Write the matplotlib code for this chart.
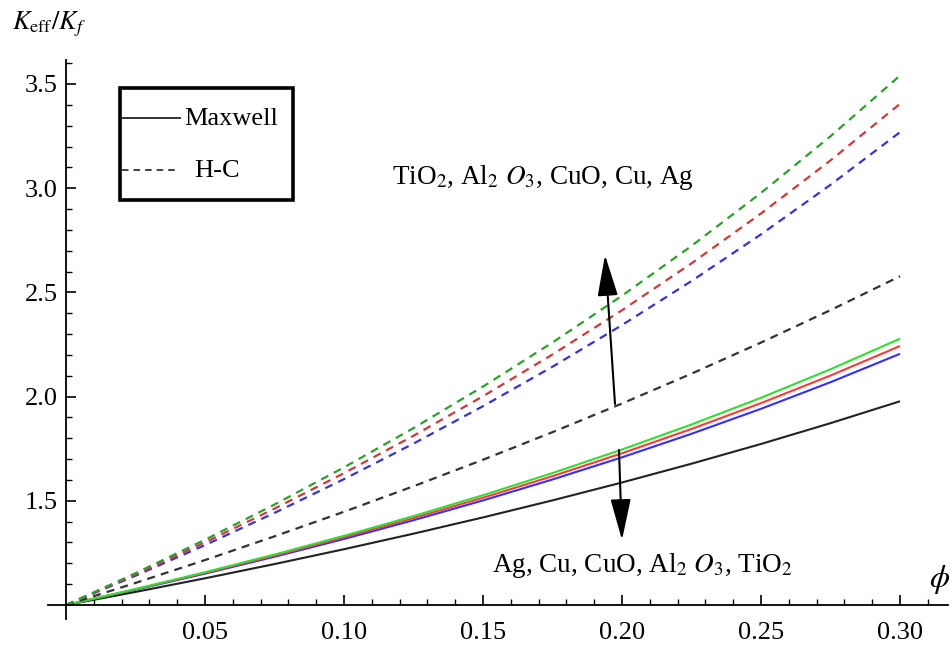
import matplotlib
matplotlib.use("Agg")
import matplotlib.pyplot as plt
from matplotlib.lines import Line2D
from matplotlib.patches import Rectangle
from matplotlib.ticker import FixedLocator

plt.rcParams['font.family'] = ['Liberation Serif', 'DejaVu Serif']
plt.rcParams['mathtext.fontset'] = 'stix'

# volume fraction
phi = [0.0, 0.025, 0.05, 0.075, 0.10, 0.125, 0.15, 0.175, 0.20, 0.225, 0.25, 0.275, 0.30]

# Maxwell model (solid)
maxwell_TiO2 = [1.0, 1.0627, 1.1281, 1.1964, 1.2677, 1.3423, 1.4203, 1.5021, 1.5879, 1.6780, 1.7727, 1.8725, 1.9776]
maxwell_Al2O3 = [1.0, 1.0734, 1.1505, 1.2316, 1.3169, 1.4069, 1.5018, 1.6023, 1.7086, 1.8215, 1.9414, 2.0691, 2.2053]
maxwell_CuO = [1.0, 1.0751, 1.1540, 1.2370, 1.3246, 1.4170, 1.5147, 1.6182, 1.7280, 1.8446, 1.9687, 2.1011, 2.2427]
maxwell_Ag = [1.0, 1.0766, 1.1572, 1.2421, 1.3318, 1.4265, 1.5268, 1.6331, 1.7460, 1.8662, 1.9943, 2.1312, 2.2779]

# Hamilton-Crosser model (dashed)
hc_TiO2 = [1.0, 1.1059, 1.2156, 1.3294, 1.4474, 1.5698, 1.6970, 1.8293, 1.9668, 2.1100, 2.2593, 2.4149, 2.5773]
hc_Al2O3 = [1.0, 1.1404, 1.2875, 1.4419, 1.6040, 1.7745, 1.9540, 2.1433, 2.3432, 2.5546, 2.7786, 3.0162, 3.2688]
hc_CuO = [1.0, 1.1466, 1.3005, 1.4623, 1.6326, 1.8122, 2.0017, 2.2021, 2.4143, 2.6394, 2.8786, 3.1333, 3.4049]
hc_Ag = [1.0, 1.1525, 1.3130, 1.4820, 1.6604, 1.8488, 2.0482, 2.2596, 2.4841, 2.7229, 2.9774, 3.2492, 3.5403]

x_ticks = [0.05, 0.10, 0.15, 0.20, 0.25, 0.30]
x_tick_labels = ['0.05', '0.10', '0.15', '0.20', '0.25', '0.30']
y_ticks = [1.5, 2.0, 2.5, 3.0, 3.5]
y_tick_labels = ['1.5', '2.0', '2.5', '3.0', '3.5']

solid_colors = ['#222222', '#3030ff', '#ff3a3a', '#30dd30']
dashed_colors = ['#333333', '#3535d0', '#cc3a3a', '#2e9e2e']

W, H = 953, 646
fig = plt.figure(figsize=(W / 100, H / 100), dpi=100)

# axes placement (pixels)
left_px, right_px, top_px, bot_px = 48, 948, 60, 619
ax = fig.add_axes([left_px / W, 1 - bot_px / H, (right_px - left_px) / W, (bot_px - top_px) / H])

px_per_x = (900 - 66) / 0.30
px_per_y = (605 - 84) / 2.5
ax.set_xlim(-(66 - left_px) / px_per_x, (right_px - 66) / px_per_x)
ax.set_ylim(1 - (bot_px - 605) / px_per_y, 1 + (605 - top_px) / px_per_y)

for ys, c in zip([maxwell_TiO2, maxwell_Al2O3, maxwell_CuO, maxwell_Ag], solid_colors):
    ax.plot(phi, ys, color=c, lw=1.5, solid_capstyle='butt')
for ys, c in zip([hc_TiO2, hc_Al2O3, hc_CuO, hc_Ag], dashed_colors):
    ax.plot(phi, ys, color=c, lw=1.6, dashes=(3.6, 2.8))

# spines through origin
ax.spines['left'].set_position(('data', 0))
ax.spines['bottom'].set_position(('data', 1))
ax.spines['top'].set_visible(False)
ax.spines['right'].set_visible(False)
ax.spines['left'].set_linewidth(1.3)
ax.spines['bottom'].set_linewidth(1.3)

ax.xaxis.set_major_locator(FixedLocator(x_ticks))
ax.xaxis.set_minor_locator(FixedLocator([i / 100 for i in range(1, 32) if i % 5 != 0]))
ax.yaxis.set_major_locator(FixedLocator(y_ticks))
ax.yaxis.set_minor_locator(FixedLocator([1 + i / 10 for i in range(1, 27) if i % 5 != 0]))
ax.set_xticklabels(x_tick_labels)
ax.set_yticklabels(y_tick_labels)
ax.tick_params(which='major', direction='in', length=7, width=1.2, labelsize=19)
ax.tick_params(which='minor', direction='in', length=4, width=1.0)
ax.tick_params(axis='x', which='major', pad=12)
ax.tick_params(axis='y', which='major', pad=6)
ax.patch.set_visible(False)

# axis labels
fig.text(12 / W, 1 - 24 / H, r'$K_{\rm eff}/K_f$', fontsize=19, va='center', ha='left')
fig.text(929 / W, 1 - 580 / H, r'$\phi$', fontsize=23, va='center', ha='left')

# annotations
ax.text((392 - 66) / px_per_x, 1 + (605 - 178) / px_per_y,
        r'TiO$_2$, Al$_2$ $O_3$, CuO, Cu, Ag', fontsize=19.5, va='center', ha='left')
ax.text((492 - 66) / px_per_x, 1 + (605 - 565) / px_per_y,
        r'Ag, Cu, CuO, Al$_2$ $O_3$, TiO$_2$', fontsize=19.5, va='center', ha='left')


def dc(px, py):
    return ((px - 66) / px_per_x, 1 + (605 - py) / px_per_y)


arrow_style = dict(arrowstyle='-|>,head_length=1.7,head_width=0.42', mutation_scale=15,
                   lw=1.5, color='black', shrinkA=0, shrinkB=0)
ax.annotate('', xy=dc(605, 255), xytext=dc(615, 404), arrowprops=arrow_style)
ax.annotate('', xy=dc(622, 540), xytext=dc(619, 450), arrowprops=arrow_style)


# legend box (manual)
def fx(px):
    return px / W


def fy(py):
    return 1 - py / H


fig.add_artist(Rectangle((fx(120), fy(200)), fx(293) - fx(120), fy(88) - fy(200),
                         transform=fig.transFigure, fill=False, lw=2.6, edgecolor='black'))
fig.add_artist(Line2D([fx(121), fx(180)], [fy(118), fy(118)], transform=fig.transFigure,
                      color='#222222', lw=1.3))
fig.add_artist(Line2D([fx(122), fx(175)], [fy(170), fy(170)], transform=fig.transFigure,
                      color='#333333', lw=1.3, dashes=(3.6, 2.8)))
fig.text(fx(184), fy(119), 'Maxwell', fontsize=19, va='center', ha='left')
fig.text(fx(194), fy(171), 'H-C', fontsize=19, va='center', ha='left')

fig.savefig('out.png', dpi=100)
